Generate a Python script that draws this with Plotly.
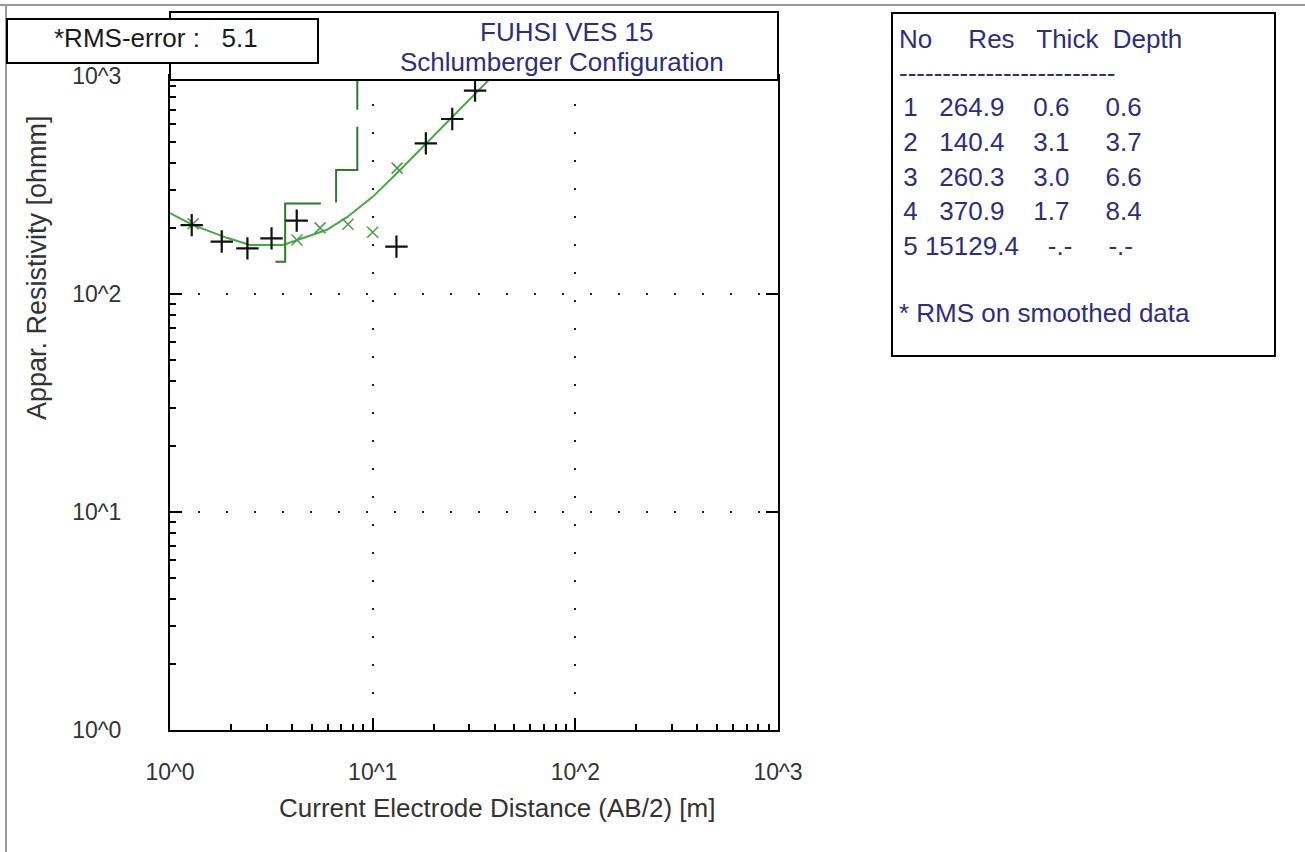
import plotly.graph_objects as go

# ---------------- data ----------------
# observed field data (black +)
ab2_field = [1.28, 1.80, 2.41, 3.17, 4.22, 13.1, 18.3, 24.7, 32.0]
rho_field = [207, 174, 162, 180, 217, 165, 491, 635, 857]

# second segment / smoothed data (green x)
ab2_smooth = [1.30, 4.23, 5.50, 7.55, 10.0, 13.2]
rho_smooth = [210, 177, 201, 209, 192, 378]

# calculated model curve (green line)
ab2_model = [1.0, 1.30, 1.91, 2.48, 3.61, 4.38, 5.95, 7.47, 10.0, 13.2, 18.5, 24.9, 32.7, 39.2, 47.0]
rho_model = [235, 207, 181, 168, 168, 179, 197, 225, 279, 359, 493, 649, 845, 1000, 1190]

# layered model (table)
layer_no = [1, 2, 3, 4, 5]
layer_res = [264.9, 140.4, 260.3, 370.9, 15129.4]
layer_thick = [0.6, 3.1, 3.0, 1.7, None]
layer_depth = [0.6, 3.7, 6.6, 8.4, None]

rms_error = 5.1
title_lines = ["FUHSI VES 15", "Schlumberger Configuration"]

x_tickvals = [1, 10, 100, 1000]
x_ticktext = ["10^0", "10^1", "10^2", "10^3"]
y_tickvals = [1, 10, 100, 1000]
y_ticktext = ["10^0", "10^1", "10^2", "10^3"]

# ---------------- geometry helpers ----------------
W, H = 1305, 852
L, R, T, B = 170, 527, 76, 122
PW, PH = W - L - R, H - T - B


def px(x):
    return (x - L) / PW


def py(y):
    return (H - B - y) / PH


# step model path (drawn from the deepest layer upward)
depths = [d for d in layer_depth if d is not None]
step_x = depths[::-1] + [0.1]
step_y = layer_res[::-1]

NAVY = "#2e2e7e"
FONT = "Liberation Sans, Arial, sans-serif"

fig = go.Figure()
fig.add_trace(go.Scatter(x=ab2_model, y=rho_model, mode="lines",
                         line=dict(color="#45a845", width=2), hoverinfo="skip"))
fig.add_trace(go.Scatter(x=step_x, y=step_y, mode="lines", line_shape="vh",
                         line=dict(color="#2f7a2f", width=2,
                                   dash="291px,17px,97px,16px,104px,1000px"),
                         hoverinfo="skip"))
fig.add_trace(go.Scatter(x=ab2_smooth, y=rho_smooth, mode="markers",
                         marker=dict(symbol="x-thin", size=11, color="#4a9a4a",
                                     line=dict(color="#4a9a4a", width=1.5))))
fig.add_trace(go.Scatter(x=ab2_field, y=rho_field, mode="markers",
                         marker=dict(symbol="cross-thin", size=16, color="#111111",
                                     line=dict(color="#111111", width=2.2))))
# dummy trace for the right-hand tick axis
fig.add_trace(go.Scatter(x=[], y=[], yaxis="y2", showlegend=False))

minor_vals = [m * 10 ** e for e in range(3) for m in range(2, 10)]

axis_common = dict(
    type="log", range=[0, 3], showline=True, linecolor="black", linewidth=2,
    mirror=True, ticks="inside", ticklen=12, tickwidth=2, tickcolor="black",
    showgrid=True, gridcolor="#222222", gridwidth=2, griddash="2px,26px",
    zeroline=False, tickfont=dict(family=FONT, size=23, color="#333333"),
    minor=dict(ticks="inside", ticklen=6, tickwidth=1.5, tickcolor="black",
               tickmode="array", tickvals=minor_vals, showgrid=False),
)

fig.update_layout(
    width=W, height=H, margin=dict(l=L, r=R, t=T, b=B),
    paper_bgcolor="white", plot_bgcolor="white", showlegend=False,
    xaxis=dict(axis_common, tickmode="array", tickvals=x_tickvals, ticktext=x_ticktext,
               ticklabelstandoff=20),
    yaxis=dict(axis_common, tickmode="array", tickvals=y_tickvals, ticktext=y_ticktext,
               ticklabelstandoff=42),
    yaxis2=dict(type="log", range=[0, 3], overlaying="y", side="right",
                showline=False, showgrid=False, zeroline=False, ticks="inside",
                ticklen=12, tickwidth=2, tickcolor="black", tickmode="array",
                tickvals=[10, 100], showticklabels=False),
)

shapes = [
    # outer frame lines
    dict(type="line", xref="paper", yref="paper", x0=px(0), x1=px(W), y0=py(5), y1=py(5),
         line=dict(color="#9a9a9a", width=2)),
    dict(type="line", xref="paper", yref="paper", x0=px(6), x1=px(6), y0=py(5), y1=py(H),
         line=dict(color="#9a9a9a", width=2)),
    # header box
    dict(type="rect", xref="paper", yref="paper", x0=px(170), x1=px(778), y0=py(80), y1=py(12),
         fillcolor="white", line=dict(color="black", width=2)),
    # RMS box
    dict(type="rect", xref="paper", yref="paper", x0=px(7), x1=px(318), y0=py(63), y1=py(19),
         fillcolor="white", line=dict(color="black", width=2)),
    # table box
    dict(type="rect", xref="paper", yref="paper", x0=px(892), x1=px(1275), y0=py(356), y1=py(13),
         fillcolor="rgba(0,0,0,0)", line=dict(color="black", width=2)),
]

ann = []


def text(x, y, s, size=26, color=NAVY, xanchor="center", angle=0):
    ann.append(dict(xref="paper", yref="paper", x=px(x), y=py(y), text=s, showarrow=False,
                    xanchor=xanchor, yanchor="middle", textangle=angle,
                    font=dict(family=FONT, size=size, color=color)))


NB = "\u00a0"
text(52, 38, f"*RMS-error :{NB*3}{rms_error}", color="#1a1a1a", xanchor="left")
text(566, 32, title_lines[0])
text(562, 62, title_lines[1])

text(897, 39, f"No{NB*5}Res{NB*3}Thick{NB*2}Depth", xanchor="left")
text(897, 73, "-" * 25, xanchor="left")
for i, (n, r, t, d) in enumerate(zip(layer_no, layer_res, layer_thick, layer_depth)):
    if t is None:
        row = f" {n}{r:8.1f}{'-.-':>7}{'-.-':>8}"
    else:
        row = f" {n}{r:8.1f}{t:7.1f}{d:8.1f}"
    text(894, 107 + 34.8 * i, row.replace(" ", NB), xanchor="left")
text(897, 313, "* RMS on smoothed data", xanchor="left")

text(497, 808, "Current Electrode Distance (AB/2) [m]", size=26, color="#333333")
text(37, 268, "Appar. Resistivity [ohmm]", size=27, color="#333333", angle=-90)

fig.update_layout(shapes=shapes, annotations=ann)
fig.write_html("out.html")
